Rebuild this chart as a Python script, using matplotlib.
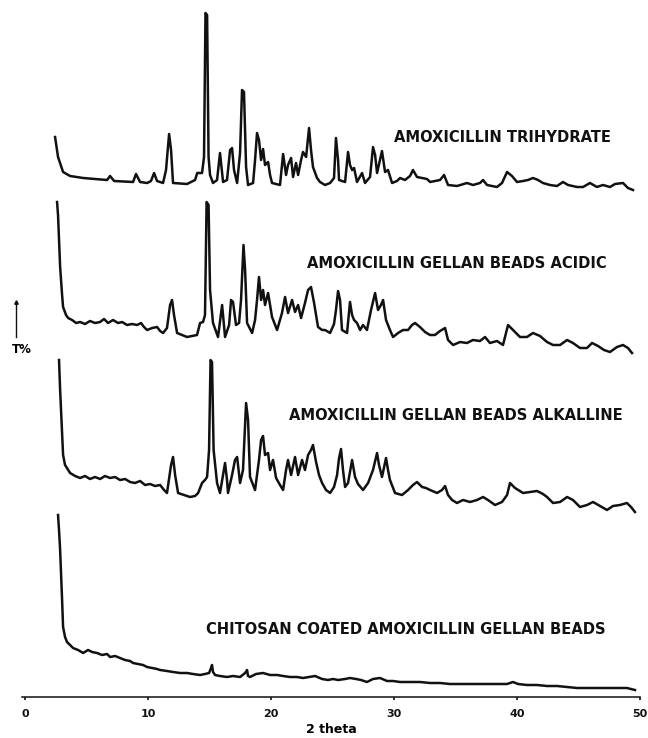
import matplotlib
matplotlib.use("Agg")
import matplotlib.pyplot as plt
from matplotlib import font_manager
from matplotlib.font_manager import FontProperties

# ---- X-ray diffraction patterns (2 theta in degrees, intensity in arbitrary units) ----
trihydrate_2theta = [2.44, 2.68, 3.09, 3.66, 4.72, 5.69, 6.67, 6.91, 7.24, 8.78, 9.02, 9.35, 9.92, 10.24,
    10.49, 10.73, 11.22, 11.46, 11.71, 11.87, 12.03, 13.17, 13.82, 14.0, 14.39, 14.55, 14.67, 14.80, 14.92,
    15.04, 15.28, 15.61, 15.85, 16.10, 16.42, 16.67, 16.83, 16.99, 17.24, 17.48, 17.64, 17.80, 17.97, 18.13,
    18.54, 18.70, 18.86, 19.02, 19.19, 19.35, 19.51, 19.76, 19.92, 20.08, 20.73, 20.98, 21.22, 21.38, 21.63,
    21.79, 22.03, 22.20, 22.44, 22.60, 22.85, 23.09, 23.25, 23.41, 23.74, 23.98, 24.39, 24.80, 25.12, 25.28,
    25.45, 25.53, 26.02, 26.26, 26.42, 26.59, 26.75, 26.99, 27.40, 27.64, 28.05, 28.29, 28.46, 28.62, 28.86,
    29.02, 29.27, 29.51, 29.84, 30.24, 30.49, 30.89, 31.30, 31.54, 31.87, 32.28, 32.68, 32.93, 33.74, 34.07,
    34.39, 35.12, 35.93, 36.42, 36.99, 37.24, 37.56, 38.37, 38.78, 39.19, 39.59, 40.0, 40.49, 40.89, 41.30,
    41.71, 42.11, 42.68, 43.25, 43.74, 44.15, 44.88, 45.37, 45.93, 46.50, 46.99, 47.56, 47.97, 48.62, 49.02,
    49.43]
trihydrate_intensity = [60, 40, 25, 21, 19, 18, 17, 21, 16, 15, 23, 15, 14, 16,
    24, 16, 14, 27, 63, 47, 14, 13, 17, 24, 24, 40, 184, 182, 40,
    22, 14, 17, 44, 15, 17, 47, 49, 27, 14, 44, 107, 105, 30, 12,
    14, 37, 64, 57, 37, 48, 32, 35, 22, 14, 12, 43, 22, 32, 39,
    20, 34, 22, 37, 45, 40, 69, 47, 30, 19, 15, 12, 14, 19, 59,
    37, 17, 15, 45, 32, 27, 29, 15, 24, 14, 20, 50, 42, 24, 37,
    46, 25, 27, 14, 16, 19, 17, 21, 27, 20, 19, 18, 15, 17, 22,
    12, 11, 14, 12, 14, 17, 12, 10, 14, 25, 21, 15, 16, 17, 19,
    17, 14, 12, 11, 15, 12, 10, 10, 14, 10, 12, 10, 13, 14, 9,
    7]

acidic_2theta = [2.60, 2.68, 2.85, 3.01, 3.09, 3.33, 3.50, 3.82, 4.15, 4.47, 4.88, 5.28, 5.69, 6.10, 6.42,
    6.75, 7.15, 7.56, 7.89, 8.29, 8.70, 9.11, 9.43, 9.67, 9.92, 10.33, 10.73, 10.98, 11.22, 11.54, 11.79,
    11.95, 12.11, 12.36, 12.76, 13.17, 13.58, 13.98, 14.23, 14.47, 14.63, 14.76, 14.92, 15.04, 15.28, 15.69,
    16.02, 16.26, 16.59, 16.75, 16.91, 17.15, 17.40, 17.56, 17.76, 17.89, 18.05, 18.46, 18.70, 18.86, 19.02,
    19.19, 19.35, 19.51, 19.76, 19.92, 20.08, 20.49, 20.89, 21.14, 21.38, 21.71, 21.95, 22.20, 22.44, 22.76,
    23.01, 23.25, 23.50, 23.82, 24.15, 24.39, 24.80, 25.12, 25.28, 25.45, 25.61, 25.77, 26.18, 26.42, 26.59,
    26.75, 26.99, 27.24, 27.48, 27.80, 28.13, 28.46, 28.70, 28.94, 29.11, 29.35, 29.67, 29.92, 30.33, 30.73,
    31.14, 31.46, 31.71, 32.11, 32.52, 32.93, 33.33, 33.74, 34.15, 34.39, 34.80, 35.37, 35.93, 36.42, 36.99,
    37.40, 37.80, 38.37, 38.86, 39.27, 39.67, 40.24, 40.81, 41.30, 41.87, 42.44, 42.93, 43.50, 44.07, 44.55,
    45.12, 45.69, 46.10, 46.59, 47.07, 47.56, 48.13, 48.62, 49.02, 49.35]
acidic_intensity = [155, 142, 90, 62, 50, 42, 39, 37, 34, 35, 33, 36, 34, 35, 38,
    34, 37, 34, 35, 32, 33, 32, 34, 30, 27, 29, 30, 26, 24, 29, 52,
    57, 42, 24, 22, 20, 21, 22, 34, 35, 42, 155, 152, 67, 34, 20,
    52, 20, 32, 57, 55, 32, 34, 57, 112, 87, 34, 24, 37, 57, 80,
    57, 67, 52, 64, 52, 40, 27, 44, 60, 44, 57, 45, 52, 39, 54,
    67, 70, 54, 30, 27, 27, 24, 33, 47, 66, 57, 27, 24, 55, 42,
    37, 34, 27, 32, 27, 47, 64, 47, 52, 57, 37, 27, 20, 24, 27,
    27, 32, 34, 30, 25, 22, 22, 26, 29, 17, 12, 15, 14, 17, 16,
    20, 14, 16, 12, 32, 27, 20, 20, 24, 21, 15, 12, 12, 17, 14,
    9, 9, 14, 11, 7, 5, 10, 12, 9, 4]

alkaline_2theta = [2.76, 2.85, 3.01, 3.09, 3.25, 3.66, 4.07, 4.47, 4.88, 5.28, 5.69, 6.10, 6.50, 6.91, 7.32,
    7.72, 8.13, 8.54, 8.94, 9.35, 9.76, 10.16, 10.57, 10.98, 11.30, 11.54, 11.87, 12.03, 12.20, 12.44, 12.93,
    13.41, 13.82, 14.07, 14.39, 14.63, 14.80, 14.96, 15.08, 15.20, 15.33, 15.61, 15.85, 16.10, 16.26, 16.42,
    16.50, 16.83, 17.07, 17.24, 17.48, 17.72, 17.97, 18.13, 18.29, 18.70, 19.02, 19.19, 19.35, 19.51, 19.76,
    19.92, 20.16, 20.41, 20.73, 20.98, 21.22, 21.38, 21.63, 21.95, 22.20, 22.52, 22.76, 23.01, 23.25, 23.41,
    23.66, 23.90, 24.15, 24.47, 24.80, 25.12, 25.37, 25.53, 25.69, 25.85, 26.02, 26.26, 26.59, 26.83, 27.07,
    27.48, 27.89, 28.29, 28.62, 28.78, 29.02, 29.35, 29.51, 29.67, 30.08, 30.65, 31.14, 31.54, 31.87, 32.28,
    32.60, 32.93, 33.50, 33.90, 34.15, 34.39, 34.72, 35.12, 35.61, 36.18, 36.75, 37.24, 37.64, 38.21, 38.78,
    39.19, 39.43, 39.84, 40.49, 41.06, 41.63, 42.11, 42.44, 42.93, 43.50, 44.07, 44.55, 45.12, 45.69, 46.18,
    46.75, 47.32, 47.80, 48.37, 48.94, 49.27, 49.59]
alkaline_intensity = [152, 122, 79, 57, 47, 39, 36, 34, 36, 33, 35, 33, 36, 34, 35,
    32, 33, 30, 29, 31, 27, 28, 26, 27, 22, 19, 47, 55, 37, 19, 17,
    15, 16, 19, 29, 32, 35, 62, 152, 150, 62, 29, 19, 37, 49, 32,
    19, 37, 52, 55, 29, 42, 109, 92, 35, 22, 52, 72, 76, 57, 59,
    42, 52, 34, 27, 22, 42, 52, 37, 55, 37, 52, 42, 57, 62, 67,
    50, 37, 29, 22, 19, 25, 37, 54, 63, 42, 25, 29, 52, 35, 28,
    22, 29, 42, 59, 47, 35, 54, 42, 32, 19, 17, 22, 27, 30, 25,
    24, 22, 19, 22, 26, 17, 12, 9, 12, 10, 12, 15, 12, 7, 10,
    17, 29, 24, 19, 20, 21, 18, 15, 9, 10, 15, 12, 5, 7, 10,
    6, 2, 6, 7, 9, 5, 0]

chitosan_2theta = [2.68, 2.76, 2.85, 2.93, 3.01, 3.09, 3.25, 3.41, 3.66, 3.90, 4.31, 4.72, 5.12, 5.45, 5.85,
    6.26, 6.67, 6.91, 7.32, 7.72, 8.13, 8.54, 8.78, 9.19, 9.59, 9.92, 10.33, 10.73, 10.98, 11.54, 12.03,
    12.60, 13.17, 13.66, 14.23, 14.63, 14.96, 15.12, 15.20, 15.28, 15.45, 15.85, 16.42, 16.91, 17.48, 17.89,
    18.05, 18.13, 18.29, 18.78, 19.35, 19.92, 20.49, 20.98, 21.54, 22.11, 22.60, 23.09, 23.58, 24.15, 24.63,
    25.04, 25.45, 26.02, 26.42, 26.91, 27.32, 27.80, 28.29, 28.86, 29.43, 29.92, 30.49, 31.30, 32.11, 32.93,
    33.74, 34.55, 35.37, 36.18, 36.99, 37.80, 38.62, 39.19, 39.67, 40.08, 40.81, 41.63, 42.44, 43.25, 44.07,
    44.88, 45.69, 46.50, 47.32, 48.13, 48.94, 49.59]
chitosan_intensity = [182, 167, 147, 122, 97, 70, 60, 55, 52, 49, 47, 44, 47, 45, 44,
    42, 43, 40, 41, 39, 37, 36, 34, 33, 32, 30, 29, 28, 27, 26, 25,
    24, 24, 23, 22, 23, 24, 29, 32, 25, 22, 21, 20, 21, 20, 24,
    27, 21, 20, 23, 24, 22, 22, 21, 20, 20, 19, 20, 21, 18, 17,
    18, 17, 18, 19, 18, 17, 15, 18, 19, 16, 16, 15, 15, 15, 14,
    14, 13, 13, 13, 13, 13, 13, 13, 15, 13, 12, 12, 11, 11, 10,
    9, 9, 9, 9, 9, 9, 7]

sample_labels = [
    "AMOXICILLIN TRIHYDRATE",
    "AMOXICILLIN GELLAN BEADS ACIDIC",
    "AMOXICILLIN GELLAN BEADS ALKALLINE",
    "CHITOSAN COATED AMOXICILLIN GELLAN BEADS",
]
x_ticks = [0, 10, 20, 30, 40, 50]

# ---- layout ----
vertical_offsets = [500, 340, 185, 0]
label_anchor = [(30.0, 560), (22.9, 433), (21.5, 282), (14.7, 68)]


def condensed_bold():
    """Prefer a condensed bold sans face for the sample captions."""
    for f in font_manager.fontManager.ttflist:
        name = f.name.lower()
        if f.weight in ("bold", 700) and (f.stretch == "condensed" or "condensed" in f.fname.lower()
                                          or "narrow" in name):
            if "dejavu" in name or "liberation" in name or "roboto" in name or "open sans" in name \
                    or "noto sans" in name:
                return FontProperties(fname=f.fname, size=11.8)
    return FontProperties(family="DejaVu Sans", weight="bold", size=10.2)


label_font = condensed_bold()

W, H = 648, 738
fig = plt.figure(figsize=(W / 100, H / 100), dpi=100)
ax = fig.add_axes([22 / W, 41 / H, 618 / W, 697 / H])

series = [
    (trihydrate_2theta, trihydrate_intensity),
    (acidic_2theta, acidic_intensity),
    (alkaline_2theta, alkaline_intensity),
    (chitosan_2theta, chitosan_intensity),
]
for (tt, inten), off, label, (lx, ly) in zip(series, vertical_offsets, sample_labels, label_anchor):
    ax.plot(tt, [v + off for v in inten], color="#111111", lw=1.8,
            solid_joinstyle="round", clip_on=False)
    ax.text(lx, ly, label, ha="left", va="center", fontproperties=label_font,
            color="#111111")

ax.set_xlim(-0.25, 50.0)
ax.set_ylim(0, 697)
ax.set_xticks(x_ticks)
ax.set_xticklabels([str(t) for t in x_ticks], fontsize=8, fontweight="bold")
ax.tick_params(axis="x", length=2.5, width=1.2, pad=6, colors="#111111")
ax.set_yticks([])
for s in ("left", "right", "top"):
    ax.spines[s].set_visible(False)
ax.spines["bottom"].set_linewidth(1.1)
ax.spines["bottom"].set_color("#111111")
ax.set_xlabel("2 theta", fontsize=9, fontweight="bold", labelpad=3)

# intensity direction marker
fig.add_artist(plt.Line2D([16 / W, 16 / W], [1 - 337 / H, 1 - 302 / H],
                          transform=fig.transFigure, color="#111111", lw=1.0))
fig.add_artist(plt.Line2D([16 / W], [1 - 302 / H], transform=fig.transFigure,
                          marker="^", markersize=2.5, color="#111111", lw=0))
fig.text(22 / W, 1 - 349 / H, "T%", ha="center", va="center", fontsize=8.5, fontweight="bold")

fig.savefig("out.png", dpi=100, facecolor="white")
